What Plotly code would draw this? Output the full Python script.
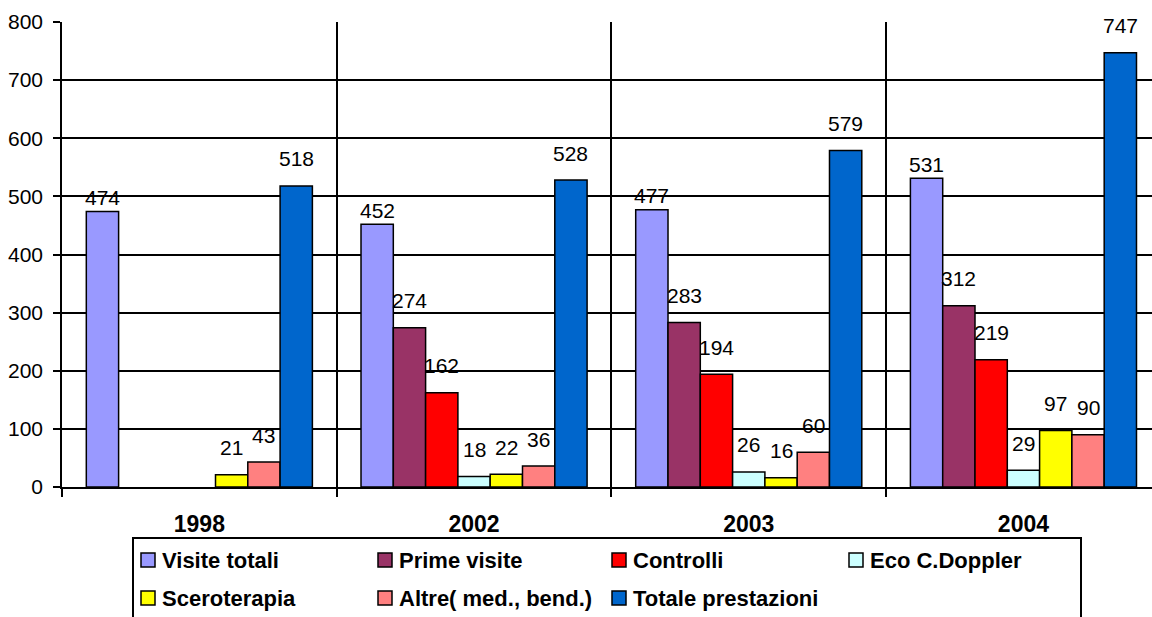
import plotly.graph_objects as go

# Activity counts per year
years = ["1998", "2002", "2003", "2004"]
visite_totali = [474, 452, 477, 531]
prime_visite = [None, 274, 283, 312]
controlli = [None, 162, 194, 219]
eco_doppler = [None, 18, 26, 29]
sceroterapia = [21, 22, 16, 97]
altre = [43, 36, 60, 90]
totale_prestazioni = [518, 528, 579, 747]

series_names = ["Visite totali", "Prime visite", "Controlli", "Eco C.Doppler",
                "Sceroterapia", "Altre( med., bend.)", "Totale prestazioni"]
series_values = [visite_totali, prime_visite, controlli, eco_doppler,
                 sceroterapia, altre, totale_prestazioni]
series_colors = ["#9999FF", "#993366", "#FF0000", "#CCFFFF",
                 "#FFFF00", "#FF8080", "#0066CC"]
# vertical lift (px) of each series' value labels above the bar top
label_lift = [14, 27, 27, 27, 27, 27, 27]

FONT = "Arial, Liberation Sans, sans-serif"
W, H = 1152, 617
L, T, B = 62, 22, 130
BARGAP = 0.177
n = len(series_names)
slot = (1 - BARGAP) / n
xpos = list(range(len(years)))

fig = go.Figure()
for name, vals, col in zip(series_names, series_values, series_colors):
    fig.add_trace(go.Bar(
        x=xpos, y=vals, name=name, showlegend=False,
        marker=dict(color=col, line=dict(color="black", width=1.5)),
    ))

annotations = []
for i, (vals, lift) in enumerate(zip(series_values, label_lift)):
    for k, v in enumerate(vals):
        if v is None:
            continue
        annotations.append(dict(
            x=xpos[k] + (i - (n - 1) / 2) * slot, y=v, xref="x", yref="y",
            text=str(v), showarrow=False, yanchor="middle", yshift=lift,
            font=dict(family=FONT, size=21, color="black"),
        ))

# pixel -> paper helpers for the hand-drawn legend
pw = W - L
ph = H - T - B


def px_x(px):
    return (px - L) / pw


def px_y(py):
    return (H - B - py) / ph


shapes = [dict(type="rect", xref="paper", yref="paper",
               x0=px_x(133), x1=px_x(1081), y0=px_y(538), y1=px_y(640),
               line=dict(color="black", width=2), fillcolor="white", layer="above")]
col_x = [141, 378, 612, 849]
row_y = [560, 598]
for i, (name, col) in enumerate(zip(series_names, series_colors)):
    cx = col_x[i % 4]
    cy = row_y[i // 4]
    shapes.append(dict(type="rect", xref="paper", yref="paper",
                       x0=px_x(cx), x1=px_x(cx + 14), y0=px_y(cy + 7), y1=px_y(cy - 7),
                       line=dict(color="black", width=1.5), fillcolor=col, layer="above"))
    annotations.append(dict(
        x=px_x(cx + 19), y=px_y(cy), xref="paper", yref="paper",
        text="<b>" + name + "</b>", showarrow=False, xanchor="left", yanchor="middle",
        font=dict(family=FONT, size=22, color="black"),
    ))

fig.update_layout(
    width=W, height=H,
    margin=dict(l=L, r=0, t=T, b=B),
    paper_bgcolor="white", plot_bgcolor="white",
    barmode="group", bargap=BARGAP, bargroupgap=0,
    annotations=annotations, shapes=shapes,
    xaxis=dict(
        range=[-0.5, -0.5 + pw / 274.7],
        tickvals=xpos, ticktext=years, ticks="", showgrid=False,
        tickfont=dict(family=FONT, size=23, color="black", weight="bold"),
        ticklabelstandoff=16,
        showline=True, linecolor="black", linewidth=1.5,
        minor=dict(tickvals=[-0.5, 0.5, 1.5, 2.5, 3.5], ticks="outside", ticklen=8,
                   tickcolor="black", tickwidth=1.5, showgrid=True,
                   gridcolor="black", gridwidth=1.5),
        zeroline=False, fixedrange=True,
    ),
    yaxis=dict(
        range=[0, 800], dtick=100, ticks="outside", ticklen=7, tickcolor="black",
        tickwidth=1.5, showgrid=True, gridcolor="black", gridwidth=1.5,
        showline=True, linecolor="black", linewidth=1.5, zeroline=False,
        tickfont=dict(family=FONT, size=21, color="black"),
        ticklabelstandoff=6, fixedrange=True,
    ),
    showlegend=False,
)

fig.write_html("out.html")
